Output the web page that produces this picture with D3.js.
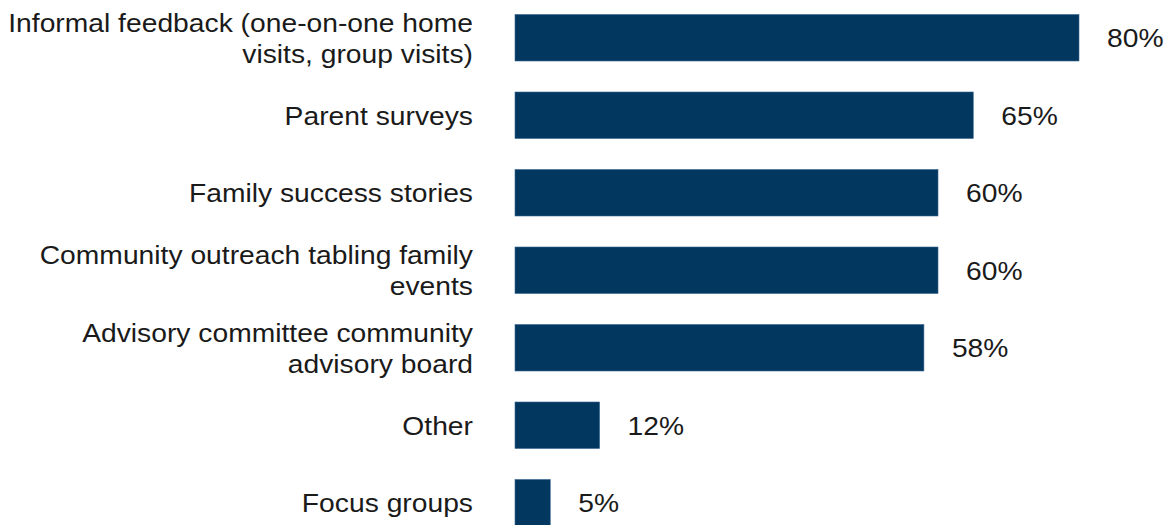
<!DOCTYPE html>
<html>
<head>
<meta charset="utf-8">
<script src="https://cdn.jsdelivr.net/npm/d3@7"></script>
<style>
  html, body { margin: 0; padding: 0; background: #ffffff; }
  svg { display: block; }
  text { font-family: "Liberation Sans", Arial, sans-serif; fill: #1a1a1a; }
</style>
</head>
<body>
<svg id="chart" width="1172" height="525"></svg>
<script>
// Category labels (each entry is the list of lines drawn for that row)
const categories = [
  ["Informal feedback (one-on-one home", "visits, group visits)"],
  ["Parent surveys"],
  ["Family success stories"],
  ["Community outreach tabling family", "events"],
  ["Advisory committee community", "advisory board"],
  ["Other"],
  ["Focus groups"]
];
// Share of respondents, in percent
const values = [80, 65, 60, 60, 58, 12, 5];

const width = 1172, height = 525;
const barLeft = 515;
const labelRight = 473;
const fontSize = 25.8;
const stretchX = 1.095;   // text is set slightly wide
const lineGap = 31;
const textShift = 1;
const barColor = "#02375f";

const svg = d3.select("#chart");

const rows = categories.map((c, i) => ({ id: i, lines: c, value: values[i] }));

const y = d3.scaleBand()
  .domain(rows.map(d => d.id))
  .range([-1, 541.5])
  .paddingInner(0.4)
  .paddingOuter(0.2);

const x = d3.scaleLinear()
  .domain([0, 80])
  .range([barLeft, barLeft + 564]);

// Bars
svg.append("g")
  .selectAll("rect")
  .data(rows)
  .join("rect")
  .attr("x", x(0))
  .attr("y", d => y(d.id))
  .attr("width", d => x(d.value) - x(0))
  .attr("height", y.bandwidth())
  .attr("fill", barColor)
  .attr("stroke", "#3b6791")
  .attr("stroke-width", 0.6);

// Category labels, right-aligned, multi-line centred on the bar
const cat = svg.append("g")
  .selectAll("text")
  .data(rows)
  .join("text")
  .attr("text-anchor", "end")
  .attr("font-size", fontSize)
  .attr("dominant-baseline", "central")
  .attr("transform", d => `translate(${labelRight},${y(d.id) + y.bandwidth() / 2 + textShift}) scale(${stretchX},1)`);

cat.each(function(d) {
  const n = d.lines.length;
  d3.select(this).selectAll("tspan")
    .data(d.lines)
    .join("tspan")
    .attr("x", 0)
    .attr("y", (l, j) => (j - (n - 1) / 2) * lineGap)
    .text(l => l);
});

// Value labels
svg.append("g")
  .selectAll("text")
  .data(rows)
  .join("text")
  .attr("transform", d => `translate(${x(d.value) + 28},${y(d.id) + y.bandwidth() / 2 + textShift}) scale(${stretchX},1)`)
  .attr("dominant-baseline", "central")
  .attr("font-size", fontSize)
  .text(d => d.value + "%");
</script>
</body>
</html>
